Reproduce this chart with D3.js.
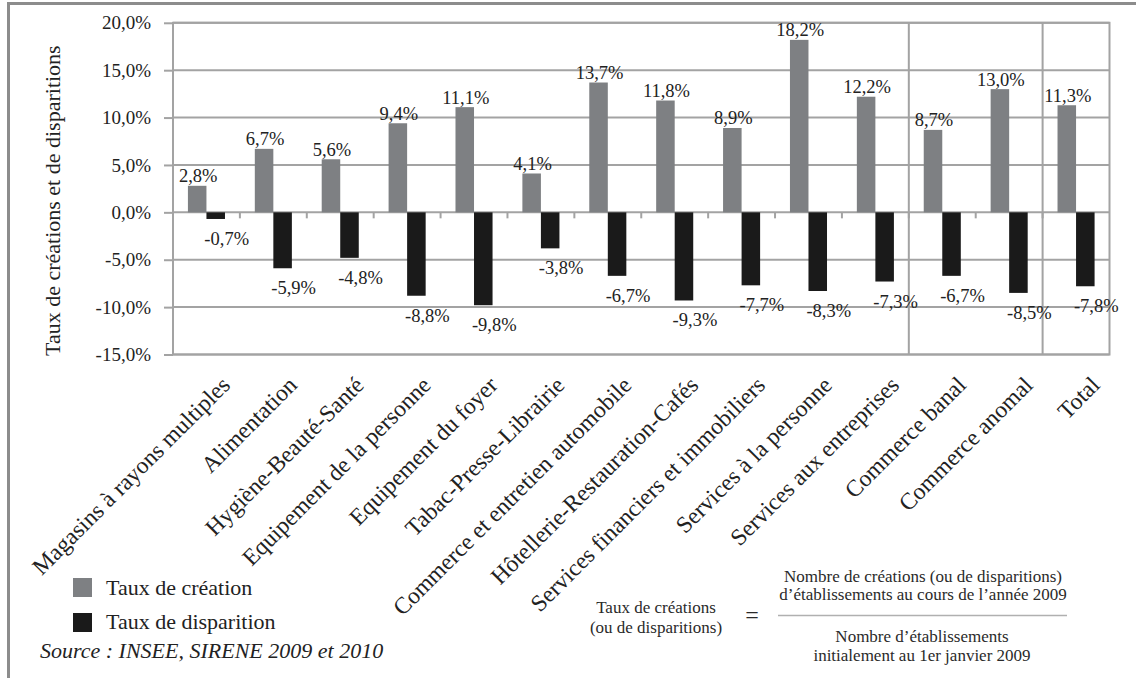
<!DOCTYPE html>
<html><head><meta charset="utf-8">
<script src="https://cdn.jsdelivr.net/npm/d3@7"></script>
<style>
body{margin:0;background:#fff;}
svg{display:block;}
svg text{font-family:"Liberation Serif","Times New Roman",serif !important;}
</style></head>
<body><svg id="c" width="1136" height="678"></svg>
<script>
const categories = ["Magasins à rayons multiples","Alimentation","Hygiène-Beauté-Santé","Equipement de la personne","Equipement du foyer","Tabac-Presse-Librairie","Commerce et entretien automobile","Hôtellerie-Restauration-Cafés","Services financiers et immobiliers","Services à la personne","Services aux entreprises","Commerce banal","Commerce anomal","Total"];
const creation = [2.8,6.7,5.6,9.4,11.1,4.1,13.7,11.8,8.9,18.2,12.2,8.7,13.0,11.3];
const disparition = [-0.7,-5.9,-4.8,-8.8,-9.8,-3.8,-6.7,-9.3,-7.7,-8.3,-7.3,-6.7,-8.5,-7.8];
const yTicks = [-15,-10,-5,0,5,10,15,20];
const seriesNames = ["Taux de création","Taux de disparition"];
const separators = ["Commerce banal","Total"];

const svg = d3.select("#c");
const colGray = "#7e8083", colBlack = "#1a1a1a", gridCol = "#a3a3a3", txt = "#222";
const fmt = v => d3.format(".1f")(v).replace(".", ",").replace("\u2212", "-") + "%";

// outer frame (top + left)
svg.append("path").attr("d","M8.5,678 L8.5,3.5 L1136,3.5").attr("fill","none").attr("stroke","#8c8c8c").attr("stroke-width",3);

const L = 173, R = 1109.5, T = 22.8, B = 354.5;
const x = d3.scaleBand().domain(categories).range([L, R]).padding(0);
const y = d3.scaleLinear().domain([-15, 20]).range([B, T]);
const bw = x.bandwidth() * 0.277;

// gridlines
svg.append("g").selectAll("line").data(yTicks).join("line")
  .attr("x1", L).attr("x2", R).attr("y1", d => y(d)).attr("y2", d => y(d))
  .attr("stroke", gridCol).attr("stroke-width", 2);

// y axis
const yAxis = svg.append("g").attr("transform", `translate(${L},0)`)
  .call(d3.axisLeft(y).tickValues(yTicks).tickFormat(fmt).tickSizeInner(9).tickSizeOuter(0).tickPadding(13));
yAxis.attr("font-family", null);
yAxis.select(".domain").remove();
yAxis.selectAll(".tick line").attr("stroke", gridCol).attr("stroke-width", 2);
yAxis.selectAll(".tick text").attr("font-size", 19).attr("fill", txt);

// x category tick marks at boundaries
const bounds = categories.slice(1).map(c => x(c));
svg.append("g").selectAll("line").data(bounds).join("line")
  .attr("x1", d => d).attr("x2", d => d).attr("y1", y(0)).attr("y2", y(0) + 6)
  .attr("stroke", gridCol).attr("stroke-width", 2);

// separators
svg.append("g").selectAll("line").data(separators).join("line")
  .attr("x1", d => x(d)).attr("x2", d => x(d)).attr("y1", T).attr("y2", B)
  .attr("stroke", gridCol).attr("stroke-width", 2);

// plot border
svg.append("rect").attr("x", L).attr("y", T).attr("width", R - L).attr("height", B - T)
  .attr("fill", "none").attr("stroke", gridCol).attr("stroke-width", 2);

// bars
const cx = c => x(c) + x.bandwidth() / 2;
svg.append("g").selectAll("rect").data(categories).join("rect")
  .attr("x", c => cx(c) - bw).attr("width", bw)
  .attr("y", (c, i) => y(creation[i])).attr("height", (c, i) => y(0) - y(creation[i]))
  .attr("fill", colGray);
svg.append("g").selectAll("rect").data(categories).join("rect")
  .attr("x", c => cx(c)).attr("width", bw)
  .attr("y", y(0)).attr("height", (c, i) => y(disparition[i]) - y(0))
  .attr("fill", colBlack);

// value labels
svg.append("g").selectAll("text").data(categories).join("text")
  .attr("x", c => cx(c) - bw / 2 + 1).attr("y", (c, i) => y(creation[i]) - 3.5)
  .attr("text-anchor", "middle").attr("font-size", 18.5).attr("fill", txt)
  .text((c, i) => fmt(creation[i]));
svg.append("g").selectAll("text").data(categories).join("text")
  .attr("x", c => cx(c) + bw / 2 + 11).attr("y", (c, i) => y(disparition[i]) + 26)
  .attr("text-anchor", "middle").attr("font-size", 18.5).attr("fill", txt)
  .text((c, i) => fmt(disparition[i]));

// x category labels
svg.append("g").selectAll("text").data(categories).join("text")
  .attr("transform", c => `translate(${cx(c) + 25},${B + 32}) rotate(-45)`)
  .attr("text-anchor", "end").attr("font-size", 23.5).attr("fill", txt)
  .text(c => c);

// y title
svg.append("text").attr("transform", `translate(60,${(T + B) / 2 + 12}) rotate(-90)`)
  .attr("text-anchor", "middle").attr("font-size", 22).attr("fill", txt)
  .text("Taux de créations et de disparitions");

// legend
const leg = svg.append("g");
[colGray, colBlack].forEach((col, i) => {
  leg.append("rect").attr("x", 73).attr("y", 578 + i * 35).attr("width", 19).attr("height", 19).attr("fill", col);
  leg.append("text").attr("x", 106).attr("y", 595 + i * 34).attr("font-size", 22).attr("fill", txt).text(seriesNames[i]);
});
svg.append("text").attr("x", 40).attr("y", 658).attr("font-size", 22).attr("font-style", "italic").attr("fill", txt)
  .text("Source : INSEE, SIRENE 2009 et 2010");

// formula
const f = svg.append("g").attr("fill", "#2a2a2a").attr("font-size", 17).attr("text-anchor", "middle");
f.append("text").attr("x", 656).attr("y", 613).text("Taux de créations");
f.append("text").attr("x", 656).attr("y", 633).text("(ou de disparitions)");
f.append("text").attr("x", 752).attr("y", 623).attr("font-size", 24).text("=");
f.append("text").attr("x", 923).attr("y", 582).text("Nombre de créations (ou de disparitions)");
f.append("text").attr("x", 923).attr("y", 600).text("d’établissements au cours de l’année 2009");
f.append("text").attr("x", 922).attr("y", 642).text("Nombre d’établissements");
f.append("text").attr("x", 922).attr("y", 661).text("initialement au 1er janvier 2009");
svg.append("line").attr("x1", 778).attr("x2", 1067).attr("y1", 615.5).attr("y2", 615.5).attr("stroke", "#b0b0b0").attr("stroke-width", 1.5);
</script></body></html>
